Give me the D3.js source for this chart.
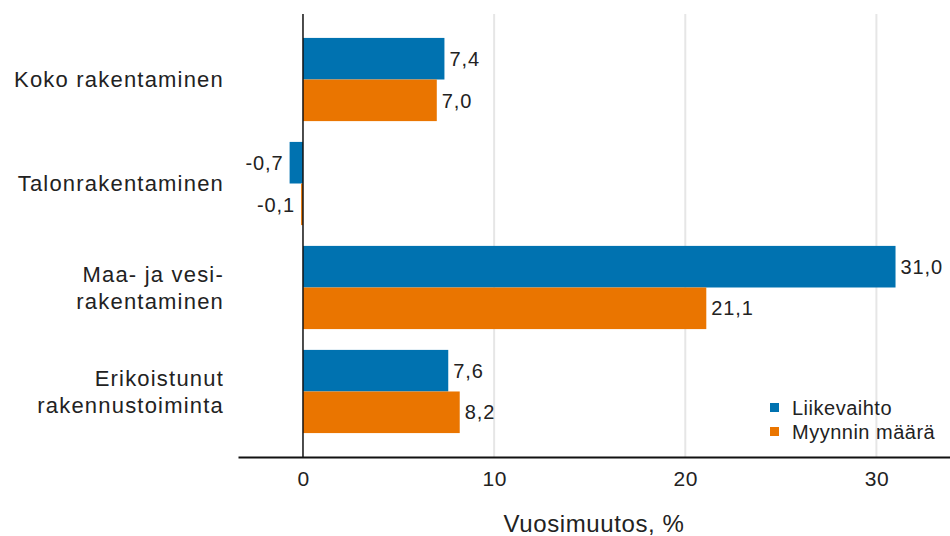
<!DOCTYPE html>
<html><head><meta charset="utf-8">
<script src="https://cdn.jsdelivr.net/npm/d3@7"></script>
<style>body{margin:0;background:#fff}svg{display:block;font-family:"Liberation Sans",Arial,sans-serif}</style>
</head><body><svg id="c" width="950" height="536"></svg>
<script>
const categories = [["Koko rakentaminen"],["Talonrakentaminen"],["Maa- ja vesi-","rakentaminen"],["Erikoistunut","rakennustoiminta"]];
const seriesNames = ["Liikevaihto","Myynnin määrä"];
const liikevaihto = [7.4,-0.7,31.0,7.6];
const myynninMaara = [7.0,-0.1,21.1,8.2];
const xTicks = [0,10,20,30];
const axisTitle = "Vuosimuutos, %";
const colors = ["#0072b0","#ea7500"];

const svg = d3.select("#c");
const x = d3.scaleLinear().domain([-3.4,33.85]).range([238,950]);
const y = d3.scaleBand().domain(d3.range(categories.length)).range([14,457]).paddingInner(0.2).paddingOuter(0.23);
const y1 = d3.scaleBand().domain([0,1]).range([0,y.bandwidth()]);
const series = [liikevaihto,myynninMaara];
const fmt = v => v.toFixed(1).replace(".",",");

// gridlines
svg.append("g").selectAll("line").data(xTicks.filter(t=>t!==0)).join("line")
  .attr("x1",d=>x(d)).attr("x2",d=>x(d)).attr("y1",14).attr("y2",457)
  .attr("stroke","#e6e6e6").attr("stroke-width",2);

// bars
series.forEach((s,si)=>{
  const g = svg.append("g");
  g.selectAll("rect").data(s).join("rect")
    .attr("x",d=>x(Math.min(0,d))).attr("width",d=>Math.abs(x(d)-x(0)))
    .attr("y",(d,i)=>y(i)+y1(si)).attr("height",y1.bandwidth())
    .attr("fill",colors[si]);
  g.selectAll("text").data(s).join("text")
    .attr("x",d=>d>=0?x(d)+5:x(d)-6)
    .attr("y",(d,i)=>y(i)+y1(si)+y1.bandwidth()/2)
    .attr("dy","0.36em")
    .attr("text-anchor",d=>d>=0?"start":"end")
    .attr("font-size",20).attr("letter-spacing","0.9px").attr("fill","#222")
    .text(fmt);
});

// zero line
svg.append("line").attr("x1",x(0)).attr("x2",x(0)).attr("y1",14).attr("y2",457)
  .attr("stroke","#111").attr("stroke-width",1.5);

// bottom axis
const ax = svg.append("g").attr("transform","translate(0,457)")
  .call(d3.axisBottom(x).tickValues(xTicks).tickSize(0).tickPadding(14).tickFormat(d3.format("d")));
ax.select(".domain").attr("stroke","#111").attr("stroke-width",2);
ax.selectAll("text").attr("font-size",21).attr("letter-spacing","0.5px").attr("fill","#222").attr("font-family","Liberation Sans,Arial,sans-serif");

// axis title
svg.append("text").attr("x",594).attr("y",532).attr("text-anchor","middle")
  .attr("font-size",24).attr("letter-spacing","0.6px").attr("fill","#222").text(axisTitle);

// category labels
categories.forEach((lines,i)=>{
  const cy = y(i)+y.bandwidth()/2;
  const t = svg.append("text").attr("text-anchor","end").attr("font-size",22).attr("letter-spacing","1.2px").attr("fill","#222");
  const lh = 27;
  lines.forEach((l,li)=>{
    t.append("tspan").attr("x",224).attr("y",cy + (li-(lines.length-1)/2)*lh).attr("dy","0.36em").text(l);
  });
});

// legend
const lg = svg.append("g");
seriesNames.forEach((n,i)=>{
  lg.append("rect").attr("x",770).attr("y",403+i*24).attr("width",9).attr("height",9).attr("fill",colors[i]);
  lg.append("text").attr("x",792).attr("y",408+i*24).attr("dy","0.36em").attr("font-size",20).attr("letter-spacing","0.5px").attr("fill","#222").text(n);
});
</script></body></html>
